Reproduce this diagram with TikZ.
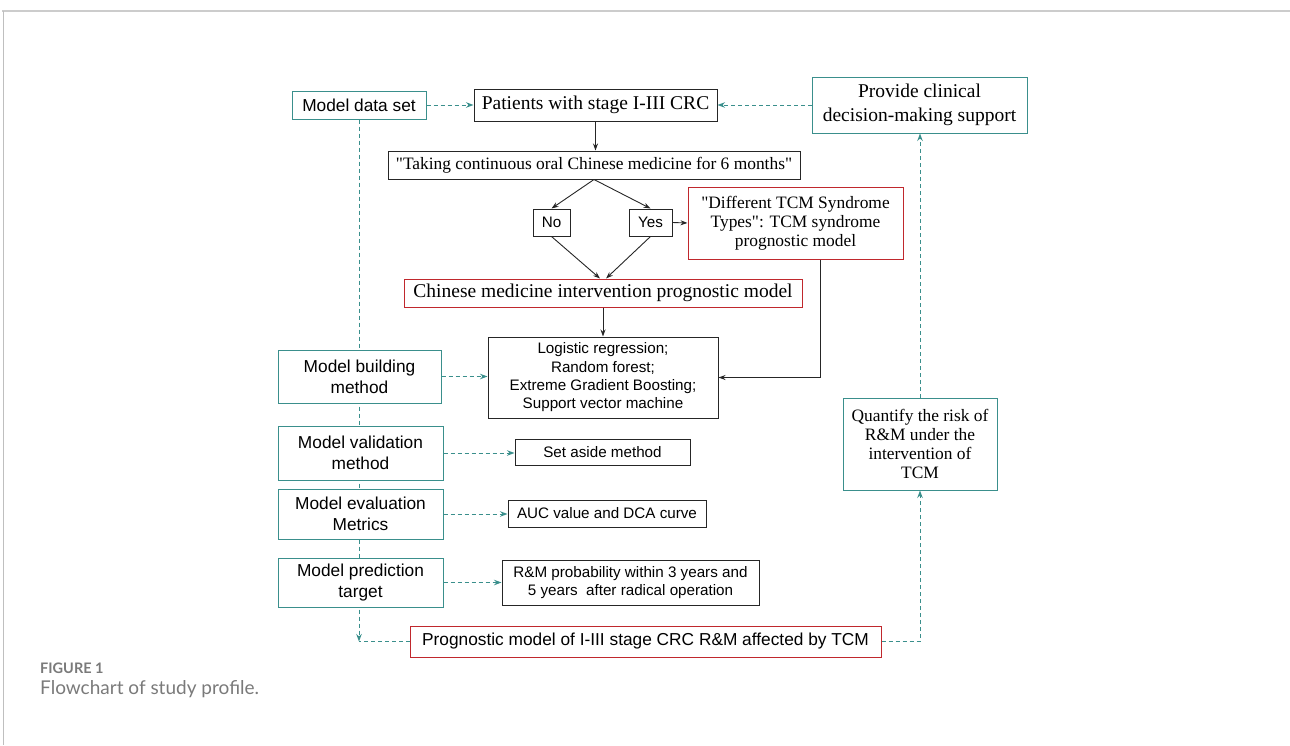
\documentclass[tikz,border=0pt]{standalone}
\usepackage{fontspec}
\setmainfont{Liberation Serif}
\setsansfont{Liberation Sans}
\newfontfamily\capfont{Lato}
\usetikzlibrary{arrows.meta,backgrounds}
\definecolor{tealc}{HTML}{3A8F8C}
\definecolor{redc}{HTML}{C0282D}
\definecolor{capgray}{HTML}{7A7A7A}
\begin{document}
\begin{tikzpicture}[x=1pt,y=-1pt,
  base/.style={draw, fill=white, line width=1pt, inner sep=0pt, align=center},
  tbox/.style={base, draw=tealc},
  bbox/.style={base, draw=black!85},
  rbox/.style={base, draw=redc},
  serifL/.style={font=\fontsize{19.5}{23.4}\selectfont},
  serifS/.style={font=\fontsize{17.4}{19}\selectfont},
  sansL/.style={font=\sffamily\fontsize{17.3}{20.8}\selectfont},
  sansS/.style={font=\sffamily\fontsize{15.2}{18.3}\selectfont},
  arr/.style={-{Stealth[length=7pt,width=5pt]}, line width=0.9pt, black!85},
  tline/.style={tealc, line width=1pt, dash pattern=on 4pt off 3pt},
  darr/.style={tline, -{Stealth[length=7.5pt,width=5.5pt]}},
]
\useasboundingbox (0,0) rectangle (1290,745);

% nodes
\node[tbox, sansL, minimum width=134pt, minimum height=28pt] (data) at (359,105) {Model data set};
\node[bbox, serifL, minimum width=243pt, minimum height=32pt] (pat) at (595.5,105) {Patients with stage I-III CRC};
\node[tbox, serifL, minimum width=215pt, minimum height=56pt] (prov) at (919.5,105) {Provide clinical\\decision-making support};
\node[bbox, serifS, minimum width=412pt, minimum height=28pt] (take) at (594,165) {\textquotedbl Taking continuous oral Chinese medicine for 6 months\textquotedbl};
\node[bbox, sansS, minimum width=37pt, minimum height=27pt] (no) at (551.5,222.5) {No};
\node[bbox, sansS, minimum width=43pt, minimum height=27pt] (yes) at (650.5,222.5) {Yes};
\node[rbox, serifS, minimum width=215pt, minimum height=72pt] (diff) at (795.5,223) {\textquotedbl Different TCM Syndrome\\Types\textquotedbl: TCM syndrome\\prognostic model};
\node[rbox, serifL, minimum width=398pt, minimum height=28pt] (cm) at (603,293) {Chinese medicine intervention prognostic model};
\node[bbox, sansS, minimum width=230pt, minimum height=81pt] (log) at (603,377.5) {Logistic regression;\\Random forest;\\Extreme Gradient Boosting;\\Support vector machine};
\node[tbox, sansL, minimum width=163pt, minimum height=53pt] (build) at (359.5,376.5) {Model building\\method};
\node[tbox, sansL, minimum width=165pt, minimum height=54pt] (valid) at (360.5,453) {Model validation\\method};
\node[tbox, sansL, minimum width=165pt, minimum height=50pt] (eval) at (360.5,514) {Model evaluation\\Metrics};
\node[tbox, sansL, minimum width=165pt, minimum height=49pt] (targ) at (360.5,582.5) {Model prediction\\target};
\node[bbox, sansS, minimum width=175pt, minimum height=26pt] (aside) at (602.5,452) {Set aside method};
\node[bbox, sansS, minimum width=198pt, minimum height=27pt] (auc) at (607,513.5) {AUC value and DCA curve};
\node[bbox, sansS, minimum width=257pt, minimum height=45pt] (rm) at (630.5,582.5) {R\&M probability within 3 years and\\5 years\ \ after radical operation};
\node[tbox, serifS, minimum width=154pt, minimum height=92pt] (quant) at (920,444) {Quantify the risk of\\R\&M under the\\intervention of\\TCM};
\node[rbox, sansL, minimum width=471pt, minimum height=31pt] (prog) at (645.5,641.5) {Prognostic model of I-III stage CRC R\&M affected by TCM};
\coordinate (corner) at (359,641.5);

% frame and teal dashed spine (behind boxes)
\begin{scope}[on background layer]
\draw[black!20, line width=2pt] (2,11) -- (1290,11);
\draw[black!25, line width=0.8pt] (3.5,11) -- (3.5,745);
\draw[darr] (data.south) -- (corner);
\end{scope}
\draw[tline] (prog.west) -- (corner);

% solid connectors
\draw[arr] (pat.south) -- (pat.south |- take.north);
\draw[arr] (take.south) -- (no.north);
\draw[arr] (take.south) -- (yes.north);
\draw[arr] (no.south) -- ([xshift=-3pt]cm.north);
\draw[arr] (yes.south) -- ([xshift=3pt]cm.north);
\draw[arr] (yes.east) -- (diff.west);
\draw[arr] (cm.south) -- (log.north);
\draw[arr] ([xshift=25pt]diff.south) |- (log.east);

% dashed teal connectors
\draw[darr] (data.east) -- (pat.west);
\draw[darr] (prov.west) -- (pat.east);
\draw[darr] (build.east) -- (build.east -| log.west);
\draw[darr] (valid.east) -- (valid.east -| aside.west);
\draw[darr] (eval.east) -- (eval.east -| auc.west);
\draw[darr] (targ.east) -- (targ.east -| rm.west);
\draw[darr] (prog.east) -| (quant.south);
\draw[darr] (quant.north) -- (quant.north |- prov.south);

% caption
\node[anchor=base west, inner sep=0pt, text=capgray, font=\capfont\bfseries\fontsize{14.5}{16}\selectfont] (fig) at (40,673) {FIGURE 1};
\node[anchor=base west, inner sep=0pt, text=capgray, font=\capfont\fontsize{19}{22}\selectfont] (cap) at (40,694) {Flowchart of study profile.};
\end{tikzpicture}
\end{document}
